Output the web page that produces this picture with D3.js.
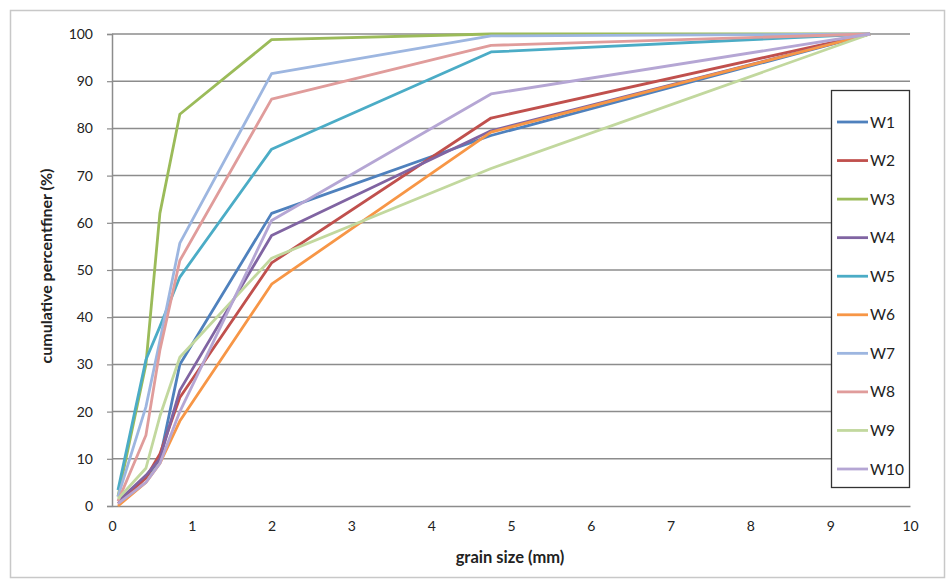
<!DOCTYPE html>
<html><head><meta charset="utf-8">
<script src="https://cdn.jsdelivr.net/npm/d3@7"></script>
<style>body{margin:0;background:#fff;} text{font-family:Lato,"Open Sans",sans-serif;}</style>
</head><body><svg id="c" width="950" height="582"></svg>
<script>
const sizes = [0.075, 0.425, 0.6, 0.85, 2.0, 4.75, 9.5];
const seriesNames = ["W1","W2","W3","W4","W5","W6","W7","W8","W9","W10"];
const W1  = [1,   6,   10, 30,   62,   78.5, 100];
const W2  = [0.5, 6,   11, 23,   51.5, 82.2, 100];
const W3  = [2,   30,  62, 83,   98.8, 100,  100];
const W4  = [1,   6.5, 10, 24.5, 57.3, 79.5, 100];
const W5  = [3.4, 31,  38, 48.5, 75.6, 96.2, 100];
const W6  = [0,   5,   9,  18,   47,   79.2, 100];
const W7  = [2,   21,  35, 55.7, 91.6, 99.6, 100];
const W8  = [1,   15,  33, 52,   86.2, 97.6, 100];
const W9  = [1.5, 8,   19, 31.5, 52.5, 71.5, 100];
const W10 = [0.5, 5,   9,  20,   60.5, 87.3, 100];
const seriesValues = [W1,W2,W3,W4,W5,W6,W7,W8,W9,W10];
const colors = ["#4F81BD","#C0504D","#9BBB59","#8064A2","#4BACC6","#F79646","#9DB6E0","#E09C9B","#C2D89E","#B5A6D4"];
const xTicks = [0,1,2,3,4,5,6,7,8,9,10];
const yTicks = [0,10,20,30,40,50,60,70,80,90,100];

const svg = d3.select("#c");
svg.append("rect").attr("x",10.5).attr("y",10.5).attr("width",934).attr("height",567)
  .attr("fill","#fff").attr("stroke","#c8c8c8").attr("stroke-width",1.5);

const L=112, R=910, T=34, B=506;
const x = d3.scaleLinear().domain([0,10]).range([L,R]);
const y = d3.scaleLinear().domain([0,100]).range([B,T]);

// gridlines
svg.append("g").selectAll("line").data(yTicks.filter(d=>d>0)).join("line")
  .attr("x1",L).attr("x2",R).attr("y1",d=>y(d)).attr("y2",d=>y(d))
  .attr("stroke","#8c8c8c").attr("stroke-width",1.5);

// y axis
const ya = svg.append("g").attr("transform",`translate(${L},0)`)
  .call(d3.axisLeft(y).tickValues(yTicks).tickSize(5).tickPadding(14));
ya.select(".domain").attr("stroke","#8c8c8c").attr("stroke-width",1.5);
ya.selectAll(".tick line").attr("stroke","#8c8c8c").attr("stroke-width",1.2);
ya.selectAll("text").attr("font-size",14).attr("fill","#222").style("font-family","Lato,'Open Sans',sans-serif");

// x axis
const xa = svg.append("g").attr("transform",`translate(0,${B})`)
  .call(d3.axisBottom(x).tickValues(xTicks).tickSize(0).tickPadding(15));
xa.select(".domain").attr("stroke","#8c8c8c").attr("stroke-width",1.5);
xa.selectAll("text").attr("font-size",14).attr("fill","#222").style("font-family","Lato,'Open Sans',sans-serif");

// titles
svg.append("text").attr("transform","translate(52,266) rotate(-90)").attr("text-anchor","middle")
  .attr("font-size",16).attr("font-weight","bold").attr("fill","#222").text("cumulative percentfiner (%)");
svg.append("text").attr("x",510).attr("y",563).attr("text-anchor","middle")
  .attr("font-size",16.5).attr("font-weight","bold").attr("fill","#222").text("grain size (mm)");

// lines
const line = d3.line().x((d,i)=>x(sizes[i])).y(d=>y(d));
svg.append("g").selectAll("path").data(seriesValues).join("path")
  .attr("d",d=>line(d)).attr("fill","none")
  .attr("stroke",(d,i)=>colors[i]).attr("stroke-width",2.8).attr("stroke-linejoin","round");

// legend
const lg = svg.append("g");
lg.append("rect").attr("x",831.5).attr("y",90.5).attr("width",78).attr("height",397)
  .attr("fill","#fff").attr("stroke","#333").attr("stroke-width",1.3);
const ly = d3.scalePoint().domain(seriesNames).range([122,469]);
const items = lg.selectAll("g.it").data(seriesNames).join("g").attr("class","it")
  .attr("transform",d=>`translate(0,${ly(d)})`);
items.append("line").attr("x1",837).attr("x2",868).attr("stroke",(d,i)=>colors[i]).attr("stroke-width",2.8);
items.append("text").attr("x",870).attr("y",5.5).attr("font-size",15.5).attr("fill","#222").text(d=>d);
</script></body></html>
